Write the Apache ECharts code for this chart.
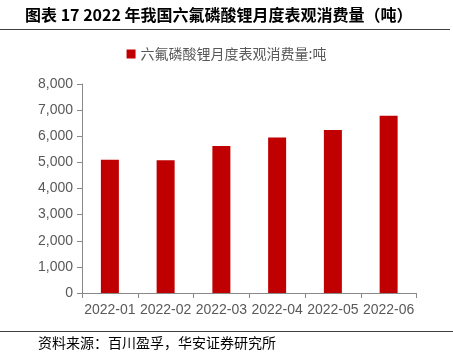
<!DOCTYPE html>
<html><head><meta charset="utf-8">
<script src="https://cdn.jsdelivr.net/npm/echarts@6/dist/echarts.min.js"></script>
<style>html,body{margin:0;padding:0;background:#fff}#c{width:453px;height:360px}</style>
</head><body><div id="c"></div>
<script>
const categories = ['2022-01','2022-02','2022-03','2022-04','2022-05','2022-06'];
const consumption = [5100, 5080, 5630, 5950, 6240, 6780];
const seriesName = '六氟磷酸锂月度表观消费量:吨';
const titleText = '图表 17 2022 年我国六氟磷酸锂月度表观消费量（吨）';
const sourceText = '资料来源：百川盈孚，华安证券研究所';

const chart = echarts.init(document.getElementById('c'), null, {renderer:'canvas'});
chart.setOption({
  animation:false,
  backgroundColor:'#fff',
  grid:{left:82, right:36.5, top:84, bottom:67, containLabel:false},
  legend:{top:42, left:'center', itemWidth:9, itemHeight:9, itemGap:5, icon:'rect',
    textStyle:{color:'#595959', fontSize:14, fontFamily:'Noto Sans CJK SC'},
    data:[seriesName]},
  xAxis:{type:'category', data:categories,
    axisLine:{lineStyle:{color:'#898989', width:1}},
    axisTick:{show:true, alignWithLabel:false, length:5, lineStyle:{color:'#898989'}},
    axisLabel:{color:'#595959', fontSize:14, fontFamily:'Liberation Sans, Arial', margin:10, interval:0}},
  yAxis:{type:'value', min:0, max:8000, interval:1000,
    axisLine:{show:true, lineStyle:{color:'#898989'}},
    axisTick:{show:true, length:5, lineStyle:{color:'#898989'}},
    splitLine:{show:false},
    axisLabel:{color:'#595959', fontSize:14, fontFamily:'Liberation Sans, Arial', margin:9,
      formatter:v=>v.toLocaleString('en-US')}},
  series:[{name:seriesName, type:'bar', data:consumption, barWidth:18,
    itemStyle:{color:'#C00000'}}],
  graphic:[
    {type:'text', left:25, top:7, style:{text:titleText, fill:'#000', font:'bold 16px "Noto Sans CJK SC"'}},
    {type:'line', shape:{x1:0,y1:29.5,x2:450,y2:29.5}, style:{stroke:'#404040', lineWidth:1}},
    {type:'line', shape:{x1:0,y1:331.5,x2:453,y2:331.5}, style:{stroke:'#404040', lineWidth:1}},
    {type:'text', left:38, top:336, style:{text:sourceText, fill:'#000', font:'14px "Noto Sans CJK SC"'}}
  ]
});
</script></body></html>
